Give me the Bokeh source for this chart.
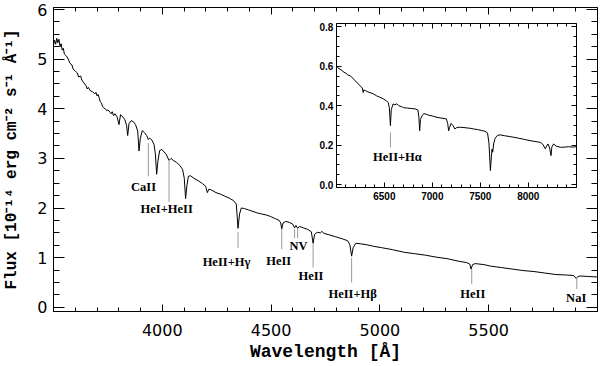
from bokeh.plotting import figure
from bokeh.models import Range1d, LinearAxis, FixedTicker, PrintfTickFormatter
from bokeh.embed import file_html
from bokeh.resources import INLINE
from bokeh.core.properties import value

# ---------------- data ----------------
main_wl = [3500, 3505, 3510, 3515, 3520, 3525, 3530, 3535, 3540, 3545, 3550, 3560, 3570, 3575,
           3585, 3590, 3600, 3610, 3615, 3625, 3630, 3640, 3650, 3655, 3660, 3670, 3680, 3690,
           3695, 3700, 3705, 3710, 3715, 3720, 3725, 3730, 3740, 3745, 3750, 3760, 3765, 3770,
           3776, 3782, 3792, 3801, 3808, 3818, 3828, 3836, 3841, 3847, 3857, 3867, 3877, 3887,
           3893, 3899, 3908, 3918, 3928, 3936, 3942, 3952, 3962, 3968, 3974, 3980, 3988, 3998,
           4008, 4018, 4031, 4040, 4050, 4065, 4080, 4093, 4101, 4107, 4113, 4120, 4130, 4145,
           4165, 4185, 4199, 4207, 4214, 4227, 4247, 4267, 4287, 4307, 4327, 4340, 4348, 4355,
           4363, 4377, 4397, 4417, 4437, 4457, 4477, 4497, 4517, 4537, 4544, 4549, 4555, 4568,
           4583, 4598, 4608, 4614, 4622, 4630, 4648, 4668, 4685, 4693, 4700, 4712, 4727, 4734,
           4742, 4767, 4797, 4827, 4852, 4862, 4870, 4877, 4889, 4909, 4939, 4969, 5009, 5059,
           5109, 5159, 5209, 5259, 5309, 5359, 5399, 5413, 5419, 5426, 5438, 5478, 5508, 5558,
           5608, 5658, 5708, 5758, 5808, 5858, 5890, 5902, 5910, 5922, 5960, 6000]
main_flux = [5.28, 5.38, 5.30, 5.42, 5.33, 5.40, 5.25, 5.31, 5.18, 5.22, 5.10, 5.06, 4.98, 4.92,
             4.88, 4.80, 4.76, 4.72, 4.64, 4.66, 4.58, 4.52, 4.46, 4.40, 4.43, 4.36, 4.34, 4.30,
             4.33, 4.26, 4.29, 4.22, 4.14, 4.12, 4.05, 4.02, 3.99, 3.96, 3.98, 3.93, 3.90, 3.94,
             3.86, 3.90, 3.84, 3.68, 3.88, 3.84, 3.78, 3.66, 3.46, 3.70, 3.76, 3.74, 3.68, 3.55,
             3.15, 3.40, 3.56, 3.52, 3.46, 3.38, 3.41, 3.37, 3.28, 3.10, 2.68, 2.95, 3.16, 3.18,
             3.13, 3.08, 2.96, 3.00, 2.96, 2.92, 2.86, 2.78, 2.60, 2.19, 2.45, 2.64, 2.65, 2.60,
             2.55, 2.49, 2.44, 2.31, 2.38, 2.36, 2.31, 2.28, 2.24, 2.20, 2.15, 2.08, 1.59, 1.88,
             2.00, 1.99, 1.96, 1.93, 1.90, 1.88, 1.86, 1.83, 1.79, 1.75, 1.70, 1.58, 1.70, 1.73,
             1.71, 1.68, 1.60, 1.65, 1.59, 1.63, 1.60, 1.57, 1.52, 1.29, 1.47, 1.51, 1.50, 1.53,
             1.49, 1.46, 1.42, 1.38, 1.34, 1.26, 1.03, 1.20, 1.29, 1.28, 1.26, 1.23, 1.20, 1.16,
             1.11, 1.08, 1.05, 1.01, 0.98, 0.93, 0.90, 0.87, 0.77, 0.86, 0.88, 0.86, 0.83, 0.80,
             0.77, 0.74, 0.72, 0.69, 0.66, 0.65, 0.64, 0.58, 0.62, 0.63, 0.62, 0.61]

inset_wl = [6000, 6020, 6040, 6060, 6080, 6100, 6120, 6146, 6170, 6200, 6230, 6250, 6270, 6280,
            6286, 6300, 6330, 6360, 6390, 6420, 6450, 6493, 6520, 6540, 6552, 6563, 6572, 6591,
            6610, 6630, 6650, 6680, 6701, 6740, 6780, 6820, 6850, 6860, 6868, 6876, 6893, 6910,
            6930, 6960, 7000, 7049, 7100, 7146, 7160, 7170, 7180, 7195, 7216, 7235, 7250, 7280,
            7310, 7350, 7400, 7431, 7470, 7510, 7550, 7575, 7590, 7605, 7615, 7622, 7629, 7640,
            7655, 7680, 7708, 7750, 7800, 7847, 7900, 7950, 7986, 8050, 8100, 8125, 8150, 8178,
            8190, 8205, 8220, 8237, 8245, 8264, 8290, 8334, 8380, 8420, 8460, 8500]
inset_flux = [0.606, 0.590, 0.585, 0.578, 0.570, 0.565, 0.556, 0.552, 0.540, 0.525, 0.510, 0.500,
              0.490, 0.467, 0.480, 0.478, 0.470, 0.465, 0.459, 0.450, 0.444, 0.434, 0.425, 0.417,
              0.390, 0.299, 0.380, 0.409, 0.405, 0.410, 0.400, 0.395, 0.390, 0.388, 0.386, 0.384,
              0.378, 0.340, 0.273, 0.330, 0.349, 0.360, 0.358, 0.352, 0.348, 0.341, 0.337, 0.333,
              0.310, 0.273, 0.290, 0.310, 0.299, 0.282, 0.288, 0.291, 0.290, 0.288, 0.285, 0.282,
              0.279, 0.275, 0.270, 0.262, 0.210, 0.071, 0.140, 0.180, 0.164, 0.210, 0.235, 0.250,
              0.252, 0.248, 0.244, 0.240, 0.235, 0.230, 0.226, 0.220, 0.216, 0.214, 0.205, 0.181,
              0.195, 0.206, 0.190, 0.147, 0.190, 0.206, 0.195, 0.189, 0.190, 0.192, 0.190, 0.192]

# line identifications (main panel)
id_wl = [3936, 4031, 4348, 4549, 4608, 4622, 4693, 4870, 5422, 5905]
id_top = [3.31, 2.96, 1.52, 1.58, 1.58, 1.58, 1.29, 0.99, 0.77, 0.60]
id_bot = [2.64, 2.12, 1.19, 1.17, 1.39, 1.39, 0.80, 0.50, 0.47, 0.37]
id_text = ["CaII", "HeI+HeII", "HeII+Hγ", "HeII", "NV", "HeII", "HeII+Hβ", "HeII", "NaI"]
id_text_x = [3914, 4020, 4295, 4535, 4626, 4683, 4875, 5427, 5902]
id_text_y = [2.42, 1.98, 0.91, 0.93, 1.23, 0.63, 0.27, 0.27, 0.19]

# line identification (inset)
inset_id_wl = [6563]
inset_id_top = [0.265]
inset_id_bot = [0.189]
inset_id_text = ["HeII+Hα"]
inset_id_text_x = [6636]
inset_id_text_y = [0.138]

# ticks
x_major = [4000, 4500, 5000, 5500]
y_major = [0, 1, 2, 3, 4, 5, 6]
ix_major = [6500, 7000, 7500, 8000]
iy_major = [0.0, 0.2, 0.4, 0.6, 0.8]

x_minor = [v for v in range(3500, 6001, 100)]
y_minor = [v * 0.25 for v in range(0, 25)]
ix_minor = [v for v in range(6000, 8501, 100)]
iy_minor = [v * 0.05 for v in range(0, 17)]

# ---------------- layout ----------------
XLO, XHI = 3500, 6000
YLO, YHI = -0.085, 6.04
IXLO, IXHI = 6000, 8500
IYLO, IYHI = -0.015, 0.817
# inset box as fractions of the main frame
FX0, FX1 = 0.520, 0.961
FY0, FY1 = 0.408, 0.947

sx = (IXHI - IXLO) / (FX1 - FX0)
sy = (IYHI - IYLO) / (FY1 - FY0)
ix_range = Range1d(IXLO - FX0 * sx, IXLO - FX0 * sx + sx)
iy_range = Range1d(IYLO - FY0 * sy, IYLO - FY0 * sy + sy)

p = figure(width=598, height=366, output_backend="svg", toolbar_location=None,
           x_range=Range1d(XLO, XHI), y_range=Range1d(YLO, YHI),
           min_border_left=53, min_border_right=1, min_border_top=7, min_border_bottom=55)
p.extra_x_ranges = {"ix": ix_range}
p.extra_y_ranges = {"iy": iy_range}
p.xgrid.visible = False
p.ygrid.visible = False
p.outline_line_color = "black"
p.outline_line_width = 1
p.background_fill_color = "white"
p.border_fill_color = "white"

TICK_FONT = "DejaVu Sans"
TITLE_FONT = "Liberation Mono"
ID_FONT = "Liberation Serif"


def style(ax, maj, mnr):
    ax.major_tick_in = maj
    ax.major_tick_out = 0
    ax.minor_tick_in = mnr
    ax.minor_tick_out = 0
    ax.axis_line_color = "black"
    ax.major_tick_line_color = "black"
    ax.minor_tick_line_color = "black"


# main bottom axis
xa = p.xaxis[0]
xa.ticker = FixedTicker(ticks=x_major, minor_ticks=x_minor)
style(xa, 7, 4)
xa.major_label_text_font = TICK_FONT
xa.major_label_text_font_size = "16px"
xa.major_label_text_color = "black"
xa.major_label_standoff = 12
xa.axis_label = "Wavelength [Å]"
xa.axis_label_text_font = TITLE_FONT
xa.axis_label_text_font_size = "18px"
xa.axis_label_text_font_style = "bold"
xa.axis_label_text_color = "black"
xa.axis_label_standoff = 3

# main left axis
ya = p.yaxis[0]
ya.ticker = FixedTicker(ticks=y_major, minor_ticks=y_minor)
style(ya, 11, 6)
ya.major_label_text_font = TICK_FONT
ya.major_label_text_font_size = "16px"
ya.major_label_text_color = "black"
ya.major_label_standoff = 6
ya.major_label_orientation = "horizontal"
ya.axis_label = "Flux [10⁻¹⁴ erg cm⁻² s⁻¹ Å⁻¹]"
ya.axis_label_text_font = TITLE_FONT
ya.axis_label_text_font_size = "16px"
ya.axis_label_text_font_style = "bold"
ya.axis_label_text_color = "black"
ya.axis_label_standoff = 13

# main top and right axes (ticks only)
ta = LinearAxis(ticker=FixedTicker(ticks=x_major, minor_ticks=x_minor), fixed_location=YHI,
                major_label_text_color=None)
style(ta, 7, 4)
p.add_layout(ta, "above")
ra = LinearAxis(ticker=FixedTicker(ticks=y_major, minor_ticks=y_minor), fixed_location=XHI,
                major_label_text_color=None)
style(ra, 11, 6)
p.add_layout(ra, "right")

# inset axes
ib = LinearAxis(x_range_name="ix", y_range_name="iy", fixed_location=IYLO, bounds=(IXLO, IXHI),
                ticker=FixedTicker(ticks=ix_major, minor_ticks=ix_minor))
style(ib, 5, 3)
ib.major_label_text_font = "Liberation Sans"
ib.major_label_text_font_style = "bold"
ib.major_label_text_font_size = "10px"
ib.major_label_text_color = "black"
ib.major_label_standoff = 5
p.add_layout(ib, "below")

il = LinearAxis(x_range_name="ix", y_range_name="iy", fixed_location=IXLO, bounds=(IYLO, IYHI),
                ticker=FixedTicker(ticks=iy_major, minor_ticks=iy_minor),
                formatter=PrintfTickFormatter(format="%.1f"))
style(il, 5, 3)
il.major_label_text_font = "Liberation Sans"
il.major_label_text_font_style = "bold"
il.major_label_text_font_size = "10px"
il.major_label_text_color = "black"
il.major_label_standoff = 3
p.add_layout(il, "left")

it = LinearAxis(x_range_name="ix", y_range_name="iy", fixed_location=IYHI, bounds=(IXLO, IXHI),
                ticker=FixedTicker(ticks=ix_major, minor_ticks=ix_minor), major_label_text_color=None)
style(it, 5, 3)
p.add_layout(it, "above")

ir = LinearAxis(x_range_name="ix", y_range_name="iy", fixed_location=IXHI, bounds=(IYLO, IYHI),
                ticker=FixedTicker(ticks=iy_major, minor_ticks=iy_minor), major_label_text_color=None)
style(ir, 5, 3)
p.add_layout(ir, "right")

# spectra
p.line(main_wl, main_flux, line_color="black", line_width=1)
p.line(inset_wl, inset_flux, line_color="black", line_width=1, x_range_name="ix", y_range_name="iy")

# identifications
p.segment(x0=id_wl, y0=id_top, x1=id_wl, y1=id_bot, line_color="#9a9a9a", line_width=1)
p.text(x=id_text_x, y=id_text_y, text=id_text, text_font=value(ID_FONT),
       text_font_style="bold", text_font_size="12.5px", text_align="center",
       text_baseline="middle", text_color="black")
p.segment(x0=inset_id_wl, y0=inset_id_top, x1=inset_id_wl, y1=inset_id_bot,
          line_color="#9a9a9a", line_width=1, x_range_name="ix", y_range_name="iy")
p.text(x=inset_id_text_x, y=inset_id_text_y, text=inset_id_text, text_font=value(ID_FONT),
       text_font_style="bold", text_font_size="12.5px", text_align="center",
       text_baseline="middle", text_color="black", x_range_name="ix", y_range_name="iy")

open("out.html", "w").write(file_html(p, INLINE))
